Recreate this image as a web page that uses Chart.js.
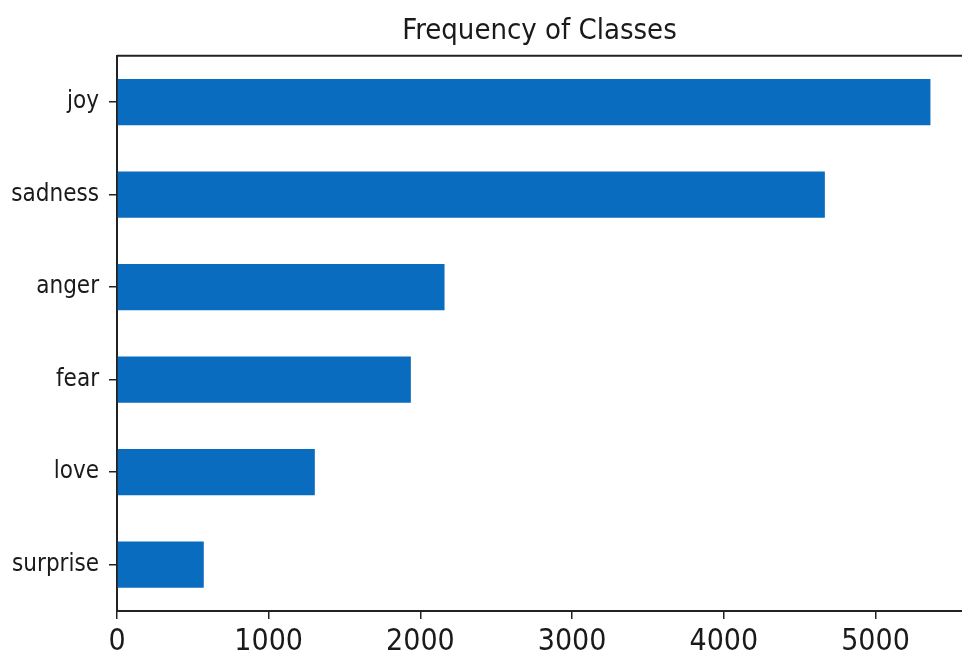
<!DOCTYPE html>
<html>
<head>
<meta charset="utf-8">
<script src="https://cdn.jsdelivr.net/npm/chart.js@4/dist/chart.umd.min.js"></script>
<style>
  html, body { margin: 0; padding: 0; background: #fff; overflow: hidden; }
  #wrap { width: 962px; height: 655px; }
</style>
</head>
<body>
<div id="wrap"><canvas id="freqChart" width="962" height="655"></canvas></div>
<script>
// -----------------------------
// Data
// -----------------------------
const classes = ['joy', 'sadness', 'anger', 'fear', 'love', 'surprise'];
const counts = [5362, 4666, 2159, 1937, 1304, 572];
const xTicks = [0, 1000, 2000, 3000, 4000, 5000];

const FONT = "'Liberation Sans Narrow', 'DejaVu Sans Condensed', 'Liberation Sans', sans-serif";

// top spine (left/bottom come from the axis borders)
const topSpine = {
    id: 'topSpine',
    afterDraw(chart) {
        const { ctx, chartArea } = chart;
        ctx.save();
        ctx.strokeStyle = '#222';
        ctx.lineWidth = 2;
        ctx.beginPath();
        ctx.moveTo(chartArea.left, chartArea.top);
        ctx.lineTo(chart.width, chartArea.top);
        ctx.stroke();
        ctx.restore();
    }
};

const ctx = document.getElementById('freqChart').getContext('2d');
new Chart(ctx, {
    type: 'bar',
    data: {
        labels: classes,
        datasets: [{
            data: counts,
            backgroundColor: '#0a6cbf',
            barPercentage: 0.5,
            categoryPercentage: 1
        }]
    },
    options: {
        indexAxis: 'y',
        responsive: false,
        animation: false,
        layout: { padding: 0 },
        plugins: {
            legend: { display: false },
            tooltip: { enabled: false },
            title: {
                display: true,
                text: 'Frequency of Classes',
                fullSize: false,
                color: '#1a1a1a',
                font: { family: FONT, size: 29, weight: 'normal' },
                padding: { top: 14, bottom: 7 }
            }
        },
        scales: {
            x: {
                type: 'linear',
                min: 0,
                max: 5570,
                afterBuildTicks: axis => {
                    axis.ticks = xTicks.map(v => ({ value: v }));
                },
                afterFit: scale => { scale.height = 44; },
                border: { color: '#222', width: 2 },
                grid: { drawOnChartArea: false, drawTicks: true, tickLength: 8, color: '#222', lineWidth: 1.5 },
                ticks: {
                    color: '#1a1a1a',
                    padding: 5,
                    maxRotation: 0,
                    callback: v => String(v),
                    font: { family: FONT, size: 30 }
                }
            },
            y: {
                type: 'category',
                afterFit: scale => { scale.width = 117; },
                border: { color: '#222', width: 2 },
                grid: { offset: false, drawOnChartArea: false, drawTicks: true, tickLength: 8, color: '#222', lineWidth: 1.5 },
                ticks: {
                    color: '#1a1a1a',
                    padding: 10,
                    font: { family: FONT, size: 24 }
                }
            }
        }
    },
    plugins: [topSpine]
});
</script>
</body>
</html>
